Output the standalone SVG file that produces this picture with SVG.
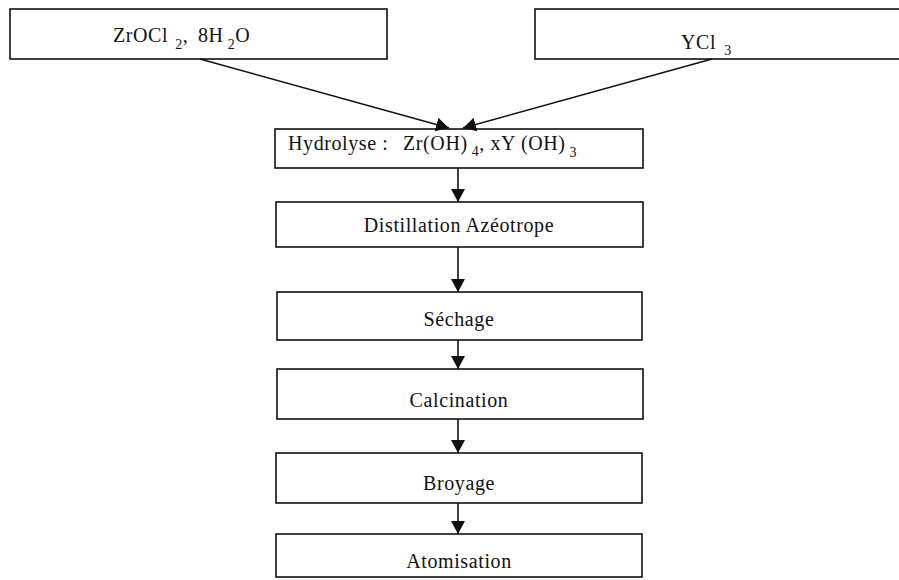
<svg xmlns="http://www.w3.org/2000/svg" width="899" height="580" viewBox="0 0 899 580">
<style>
.box{fill:#fff;stroke:#111;stroke-width:1.6}
.t{font-family:"Liberation Serif","Times New Roman",serif;font-size:20px;fill:#111;letter-spacing:0.6px}
.s{font-size:14px}
.c{stroke:#111;stroke-width:1.6;fill:none}
</style>
<defs>
<marker id="ah" viewBox="0 0 13 14" refX="13" refY="7" markerWidth="13" markerHeight="14" markerUnits="userSpaceOnUse" orient="auto">
<path d="M0,0 L13,7 L0,14 Z" fill="#111"/>
</marker>
</defs>
<rect width="899" height="580" fill="#fff"/>
<g id="zrocl">
<rect class="box" x="10" y="9" width="377" height="50"/>
<text class="t" x="113" y="42" letter-spacing="1.2">ZrOCl<tspan class="s" dx="7" dy="7">2</tspan><tspan dy="-7">,</tspan><tspan x="198">8H</tspan><tspan class="s" dx="4" dy="7">2</tspan><tspan dy="-7">O</tspan></text>
</g>
<g id="ycl3">
<rect class="box" x="535" y="9" width="380" height="50"/>
<text class="t" x="681" y="49" letter-spacing="1.2">YCl<tspan class="s" dx="8" dy="6">3</tspan></text>
</g>
<g id="hydrolyse">
<rect class="box" x="275" y="129" width="368" height="39"/>
<text class="t" x="288" y="150">Hydrolyse :<tspan x="403">Zr(OH)</tspan><tspan class="s" dx="4" dy="6">4</tspan><tspan dy="-6">, xY (OH)</tspan><tspan class="s" dx="4" dy="7">3</tspan></text>
</g>
<g id="distillation">
<rect class="box" x="276" y="202" width="367" height="45"/>
<text class="t" x="459" y="232" text-anchor="middle">Distillation Azéotrope</text>
</g>
<g id="sechage">
<rect class="box" x="277" y="292" width="365" height="48"/>
<text class="t" x="459" y="326" text-anchor="middle">Séchage</text>
</g>
<g id="calcination">
<rect class="box" x="277" y="369" width="366" height="50"/>
<text class="t" x="459" y="407" text-anchor="middle">Calcination</text>
</g>
<g id="broyage">
<rect class="box" x="276" y="453" width="366" height="50"/>
<text class="t" x="459" y="490" text-anchor="middle">Broyage</text>
</g>
<g id="atomisation">
<rect class="box" x="276" y="534" width="366" height="43"/>
<text class="t" x="459" y="568" text-anchor="middle">Atomisation</text>
</g>
<g id="connectors">
<line class="c" x1="200" y1="59" x2="449" y2="128" marker-end="url(#ah)"/>
<line class="c" x1="712" y1="59" x2="463" y2="128" marker-end="url(#ah)"/>
<line class="c" x1="458" y1="168" x2="458" y2="202" marker-end="url(#ah)"/>
<line class="c" x1="458" y1="247" x2="458" y2="292" marker-end="url(#ah)"/>
<line class="c" x1="458" y1="340" x2="458" y2="369" marker-end="url(#ah)"/>
<line class="c" x1="458" y1="419" x2="458" y2="453" marker-end="url(#ah)"/>
<line class="c" x1="458" y1="503" x2="458" y2="534" marker-end="url(#ah)"/>
</g>
</svg>
